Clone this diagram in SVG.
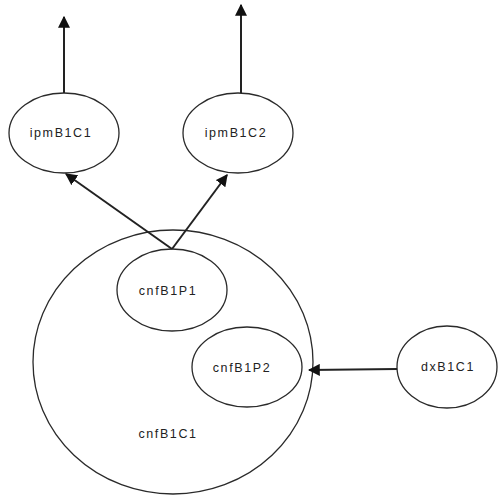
<svg xmlns="http://www.w3.org/2000/svg" width="498" height="496" viewBox="0 0 498 496">
  <style>
    .node { fill: #fff; stroke: #2a2a2a; stroke-width: 1.3; }
    .label { font-family: "Liberation Sans", Arial, sans-serif; font-size: 12.5px; letter-spacing: 1.6px; fill: #222; text-anchor: middle; dominant-baseline: central; }
    .edge { stroke: #222; stroke-width: 2; fill: none; marker-end: url(#arrow); }
  </style>
  <defs>
    <marker id="arrow" viewBox="0 0 10 10" refX="9" refY="5" markerWidth="6" markerHeight="6" orient="auto" markerUnits="strokeWidth">
      <path d="M0,0 L10,5 L0,10 Z" fill="#111"/>
    </marker>
  </defs>
  <rect width="498" height="496" fill="#fff"/>

  <g id="cnfB1C1">
    <ellipse class="node" cx="173" cy="362" rx="140" ry="132"/>
    <text class="label" x="168" y="434">cnfB1C1</text>
  </g>
  <g id="cnfB1P1">
    <ellipse class="node" cx="172" cy="290" rx="55" ry="41"/>
    <text class="label" x="168" y="291">cnfB1P1</text>
  </g>
  <g id="cnfB1P2">
    <ellipse class="node" cx="247" cy="367" rx="55" ry="40"/>
    <text class="label" x="242" y="368">cnfB1P2</text>
  </g>
  <g id="ipmB1C1">
    <ellipse class="node" cx="64" cy="133" rx="55" ry="40"/>
    <text class="label" x="61" y="133">ipmB1C1</text>
  </g>
  <g id="ipmB1C2">
    <ellipse class="node" cx="238" cy="133" rx="55" ry="40"/>
    <text class="label" x="236" y="133">ipmB1C2</text>
  </g>
  <g id="dxB1C1">
    <ellipse class="node" cx="447" cy="367" rx="50" ry="41"/>
    <text class="label" x="448" y="367">dxB1C1</text>
  </g>

  <g id="connectors">
    <line class="edge" x1="64" y1="93" x2="64" y2="17"/>
    <line class="edge" x1="241" y1="93" x2="241" y2="5"/>
    <line class="edge" x1="172" y1="249" x2="66" y2="174"/>
    <line class="edge" x1="172" y1="249" x2="227" y2="175"/>
    <line class="edge" x1="397" y1="369" x2="309" y2="370"/>
  </g>
</svg>
